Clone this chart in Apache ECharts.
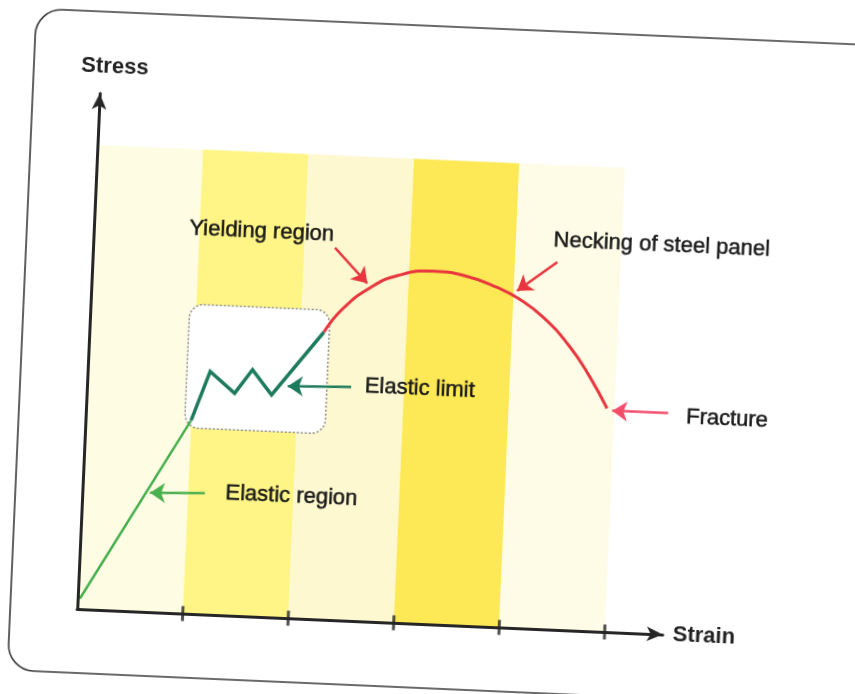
<!DOCTYPE html>
<html><head><meta charset="utf-8">
<script src="https://cdn.jsdelivr.net/npm/echarts@6/dist/echarts.min.js"></script>
<style>
html,body{margin:0;padding:0;background:#fff;overflow:hidden;width:855px;height:694px;}
#chart{width:855px;height:694px;transform:rotate(2.5deg);transform-origin:427.5px 347px;}
</style></head><body><div id="chart"></div>
<script>
const bandEdges = [0, 1, 2, 3, 4, 5];
const bandColors = ['#fefde4', '#fff586', '#fdf8d0', '#fde955', '#fefce6'];
const bandTop = 90;
const elasticLine = [[0.02, 2], [1.0, 37.5]];
const limitLine = [[1.0, 37.5], [1.16, 47.1], [1.40, 43.1], [1.56, 47.8], [1.75, 43.1], [2.22, 55.7]];
const plasticLine = [[2.22, 55.7], [2.39, 60.4], [2.64, 64.7], [2.90, 67.3], [3.23, 68.4], [3.55, 67.7], [3.84, 65.8], [4.05, 63.8], [4.29, 60.4], [4.55, 55.0], [4.75, 49.4], [4.93, 43.3]];
const limitBox = [0.94, 2.27, 36, 60];
const strainTicks = [1, 2, 3, 4, 5];
const labelTexts = ['Yielding region', 'Necking of steel panel', 'Elastic limit', 'Elastic region', 'Fracture'];
const labelPos = [[1.59, 74.7], [5.38, 75.4], [3.15, 45.5], [1.98, 23.7], [6.07, 42.3]];
const arrowFrom = [[2.29, 72.1], [4.40, 71.2], [2.50, 45.3], [1.16, 23.5], [5.51, 42.9]];
const arrowTo = [[2.61, 65.5], [4.03, 65.3], [1.90, 44.9], [0.64, 23.1], [4.98, 42.9]];
const arrowColors = ['#e8363f', '#e8363f', '#1d7a5d', '#4cb050', '#f24e6c'];

const FONT = 'Liberation Sans, Arial, sans-serif';
const chart = echarts.init(document.getElementById('chart'));

const bandData = bandEdges.slice(0, -1).map((e, i) => [e, bandEdges[i + 1], bandTop]);

chart.setOption({
  animation: false,
  backgroundColor: '#fff',
  graphic: [{
    type: 'rect', z: -10,
    shape: { x: 22, y: 26, width: 900, height: 662, r: 26 },
    style: { fill: 'none', stroke: '#3a3a3a', lineWidth: 1.6 }
  }],
  grid: { left: 89, right: 180, top: 108, bottom: 70 },
  xAxis: {
    type: 'value', min: 0, max: 5.55, interval: 1, z: 10,
    axisLine: { show: true, lineStyle: { color: '#262626', width: 3 }, symbol: ['none', 'arrow'], symbolSize: [11, 16] },
    axisTick: { show: false }, axisLabel: { show: false }, splitLine: { show: false },
    name: 'Strain', nameLocation: 'end', nameGap: 10,
    nameTextStyle: { fontSize: 22, fontWeight: 'bold', color: '#222', fontFamily: FONT }
  },
  yAxis: {
    type: 'value', min: 0, max: 100, interval: 20, z: 10,
    axisLine: { show: true, lineStyle: { color: '#262626', width: 3 }, symbol: ['none', 'arrow'], symbolSize: [11, 16] },
    axisTick: { show: false }, axisLabel: { show: false }, splitLine: { show: false },
    name: 'Stress', nameLocation: 'end', nameGap: 16,
    nameTextStyle: { fontSize: 22, fontWeight: 'bold', color: '#222', fontFamily: FONT, align: 'center', padding: [0, 0, 0, 28] }
  },
  series: [
    {
      type: 'custom', z: 0, silent: true,
      data: bandData,
      renderItem: function (params, api) {
        const p0 = api.coord([api.value(0), api.value(2)]);
        const p1 = api.coord([api.value(1), 0]);
        return { type: 'rect', shape: { x: p0[0], y: p0[1], width: p1[0] - p0[0], height: p1[1] - p0[1] },
          style: { fill: bandColors[params.dataIndex] } };
      }
    },
    {
      type: 'custom', z: 1, silent: true,
      data: [limitBox],
      renderItem: function (params, api) {
        const p0 = api.coord([api.value(0), api.value(3)]);
        const p1 = api.coord([api.value(1), api.value(2)]);
        return { type: 'rect', shape: { x: p0[0], y: p0[1], width: p1[0] - p0[0], height: p1[1] - p0[1], r: 14 },
          style: { fill: '#ffffff', stroke: '#8a8a8a', lineWidth: 1.5, lineDash: [2, 2] } };
      }
    },
    {
      type: 'line', z: 3, data: elasticLine, showSymbol: false, symbol: 'none',
      lineStyle: { color: '#42ad4a', width: 2.5 }
    },
    {
      type: 'line', z: 3, data: limitLine, showSymbol: false, symbol: 'none',
      lineStyle: { color: '#1d7a5d', width: 3.5, join: 'miter' }
    },
    {
      type: 'line', z: 3, data: plasticLine, showSymbol: false, symbol: 'none', smooth: 0.5,
      lineStyle: { color: '#e8363f', width: 3 }
    },
    {
      type: 'line', z: 4, data: [[0, 0]], showSymbol: false, symbol: 'none', lineStyle: { opacity: 0 },
      markLine: {
        silent: true, symbol: ['none', 'arrow'], symbolSize: 15, precision: 3,
        label: { show: false },
        data: arrowFrom.map((f, i) => [
          { coord: f, lineStyle: { color: arrowColors[i], width: 2.5, type: 'solid' }, itemStyle: { color: arrowColors[i] } },
          { coord: arrowTo[i] }
        ])
      }
    },
    {
      type: 'scatter', z: 11, silent: true,
      data: strainTicks.map(t => [t, 0]),
      symbol: 'rect', symbolSize: [3, 15],
      itemStyle: { color: '#262626' }
    },
    {
      type: 'scatter', z: 12, silent: true, clip: false,
      data: labelPos.map((p, i) => [p[0], p[1], labelTexts[i]]),
      symbolSize: 1, itemStyle: { color: 'transparent' },
      label: {
        show: true, position: 'inside', formatter: p => p.data[2],
        fontSize: 22, color: '#1a1a1a', opacity: 1, fontFamily: FONT,
        textBorderColor: '#1a1a1a', textBorderWidth: 0.5
      }
    }
  ]
});
</script></body></html>
